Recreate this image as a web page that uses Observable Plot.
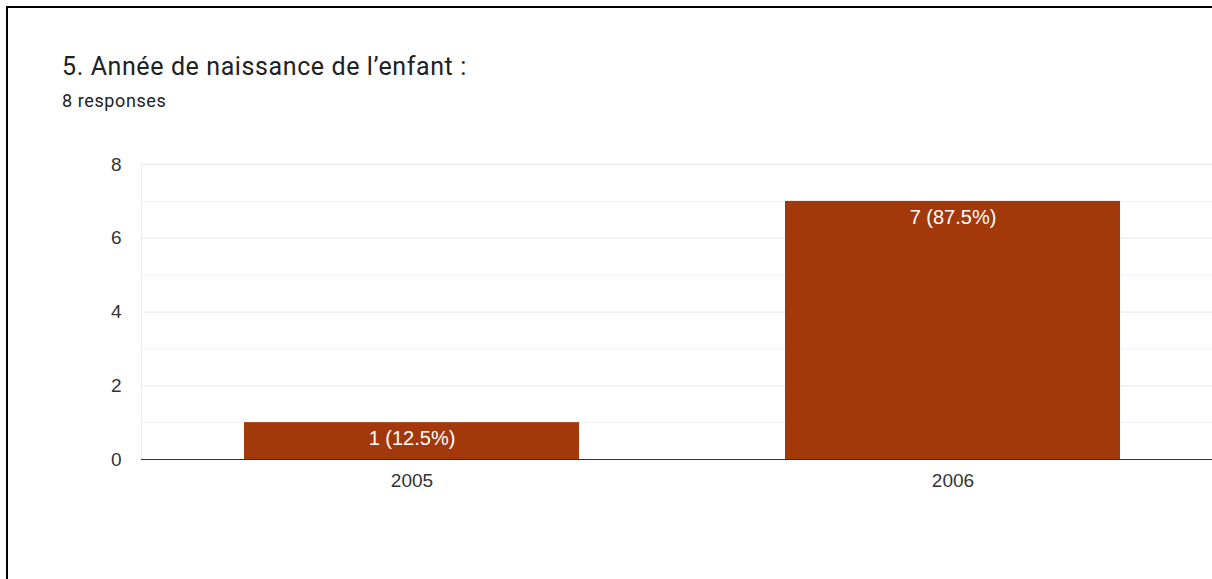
<!DOCTYPE html>
<html>
<head>
<meta charset="utf-8">
<script src="https://cdn.jsdelivr.net/npm/d3@7"></script>
<script src="https://cdn.jsdelivr.net/npm/@observablehq/plot@0.6"></script>
<style>
  html, body { margin: 0; padding: 0; background: #fff; overflow: hidden; width: 1212px; height: 579px; }
  #frame { position: absolute; left: 6px; top: 6px; width: 1230px; height: 600px; border-top: 2px solid #000; border-left: 2px solid #000; }
  #title { position: absolute; left: 62px; top: 52px; font-family: Roboto, sans-serif; font-size: 25px; letter-spacing: 0.6px; color: #202124; white-space: nowrap; line-height: normal; }
  #subtitle { position: absolute; left: 62px; top: 90px; font-family: Roboto, sans-serif; font-size: 18px; letter-spacing: 0.6px; color: #202124; white-space: nowrap; line-height: normal; }
  #chart { position: absolute; left: 0; top: 130px; width: 1230px; }
</style>
</head>
<body>
<div id="frame"></div>
<div id="title">5. Année de naissance de l’enfant :</div>
<div id="subtitle">8 responses</div>
<div id="chart"></div>
<script>
const years = ["2005", "2006"];
const counts = [1, 7];
const labels = ["1 (12.5%)", "7 (87.5%)"];
const majorTicks = [0, 2, 4, 6, 8];
const minorTicks = [1, 3, 5, 7];

const data = years.map((y, i) => ({year: y, count: counts[i], label: labels[i]}));

const chart = Plot.plot({
  width: 1224,
  height: 440,
  marginLeft: 141,
  marginRight: 0,
  marginTop: 34,
  marginBottom: 111,
  style: {fontFamily: "Arial, 'Liberation Sans', sans-serif", fontSize: "19px", color: "#333", background: "transparent", maxWidth: "none"},
  x: {domain: years, paddingInner: 0.38, paddingOuter: 0.19, label: null, tickSize: 0, tickPadding: 14},
  y: {domain: [0, 8], ticks: majorTicks, label: null, tickSize: 0, tickPadding: 20},
  marks: [
    Plot.ruleY(minorTicks, {stroke: "#f3f3f3", strokeWidth: 1}),
    Plot.ruleY(majorTicks.filter(d => d > 0), {stroke: "#e8e8e8", strokeWidth: 1}),
    Plot.barY(data, {x: "year", y: "count", fill: "#a3390a"}),
    Plot.text(data, {x: "year", y: "count", text: "label", fill: "#fff", dy: 16, fontSize: 20}),
    Plot.ruleY([0], {stroke: "#333", strokeWidth: 1})
  ]
});
document.getElementById("chart").appendChild(chart);
// left plot edge light line
d3.select(chart).insert("line", ":first-child")
  .attr("x1", 141.5).attr("x2", 141.5).attr("y1", 34).attr("y2", 329)
  .attr("stroke", "#ececec");
</script>
</body>
</html>
